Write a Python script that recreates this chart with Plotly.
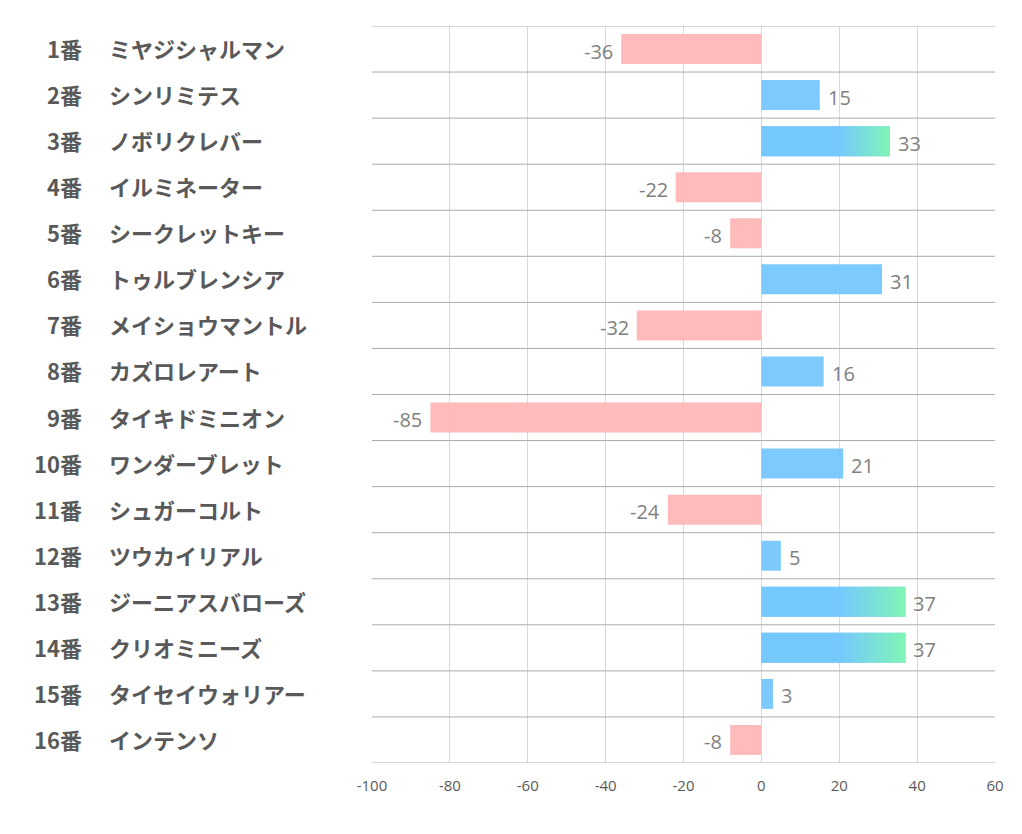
import plotly.graph_objects as go

numbers = ["1番", "2番", "3番", "4番", "5番", "6番", "7番", "8番",
           "9番", "10番", "11番", "12番", "13番", "14番", "15番", "16番"]
names = ["ミヤジシャルマン", "シンリミテス", "ノボリクレバー", "イルミネーター",
         "シークレットキー", "トゥルブレンシア", "メイショウマントル", "カズロレアート",
         "タイキドミニオン", "ワンダーブレット", "シュガーコルト", "ツウカイリアル",
         "ジーニアスバローズ", "クリオミニーズ", "タイセイウォリアー", "インテンソ"]
values = [-36, 15, 33, -22, -8, 31, -32, 16, -85, 21, -24, 5, 37, 37, 3, -8]
highlight = ["3番", "13番", "14番"]
x_ticks = [-100, -80, -60, -40, -20, 0, 20, 40, 60]

PINK = "#FFB7B8"
BLUE = "#75C8FE"
GREEN = "#80F7B2"
GRAD_START = 20

idx = list(range(len(values)))
colors = [BLUE if v >= 0 else PINK for v in values]

fig = go.Figure()
fig.add_trace(go.Bar(
    x=values, y=idx, orientation="h", width=0.65,
    marker=dict(color=colors, line=dict(width=0)), opacity=0.95,
    hoverinfo="skip", showlegend=False,
))

half = 0.325
for i, (n, v) in enumerate(zip(numbers, values)):
    if n in highlight:
        fig.add_trace(go.Scatter(
            x=[0, v, v, 0, 0], y=[i - half, i - half, i + half, i + half, i - half],
            mode="lines", fill="toself", line=dict(width=0), opacity=0.95,
            fillgradient=dict(type="horizontal",
                              colorscale=[[0, BLUE], [1, GREEN]],
                              start=GRAD_START, stop=v),
            hoverinfo="skip", showlegend=False,
        ))

annotations = []
for i, (n, nm, v) in enumerate(zip(numbers, names, values)):
    annotations.append(dict(
        x=v, y=i, xref="x", yref="y", text=str(v), showarrow=False,
        xanchor="left" if v >= 0 else "right", xshift=6 if v >= 0 else -6, yshift=-2,
        font=dict(family="Open Sans, Noto Sans", size=20, color="#7F7F7F"),
    ))
    annotations.append(dict(
        x=0, y=i, xref="paper", yref="y", text="<b>%s</b>" % n, showarrow=False,
        xanchor="right", xshift=-288, yshift=1,
        font=dict(family="Noto Sans CJK JP", size=22, color="#595959"),
    ))
    annotations.append(dict(
        x=0, y=i, xref="paper", yref="y", text="<b>%s</b>" % nm, showarrow=False,
        xanchor="left", xshift=-265, yshift=1,
        font=dict(family="Noto Sans CJK JP", size=22, color="#595959"),
    ))

shapes = []
for k in range(len(values) + 1):
    shapes.append(dict(
        type="line", xref="paper", yref="y", x0=0, x1=1, y0=k - 0.5, y1=k - 0.5,
        line=dict(color="#ABABAB", width=1), layer="above",
    ))

fig.update_layout(
    width=1022, height=834,
    margin=dict(l=364, r=35, t=18, b=79),
    plot_bgcolor="white", paper_bgcolor="white",
    bargap=0.35,
    xaxis=dict(range=[-100, 60], tickvals=x_ticks, ticktext=[str(t) for t in x_ticks],
               showgrid=True, gridcolor="#D9D9D9", gridwidth=1, zeroline=False,
               showline=False, ticks="", ticklen=0, ticklabelstandoff=12,
               tickfont=dict(family="Open Sans, Noto Sans", size=15, color="#595959")),
    yaxis=dict(range=[len(values) - 0.5, -0.5], showticklabels=False, showgrid=False,
               zeroline=False, showline=False, ticks=""),
    annotations=annotations,
    shapes=shapes,
)

fig.write_html("out.html")
